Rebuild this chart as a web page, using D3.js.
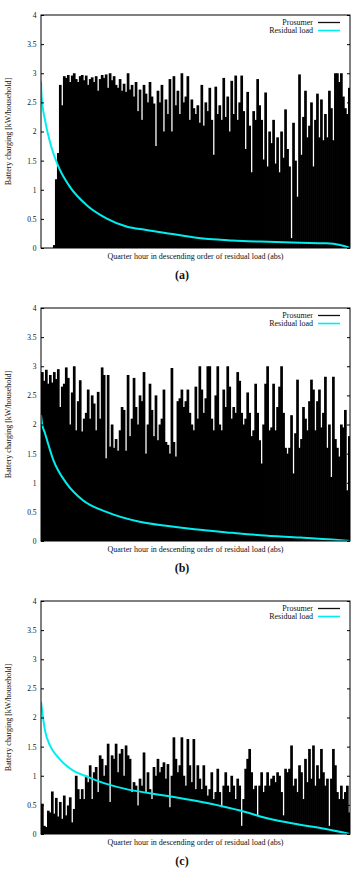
<!DOCTYPE html>
<html>
<head>
<meta charset="utf-8">
<script src="https://cdn.jsdelivr.net/npm/d3@7"></script>
<style>
  html, body { margin: 0; padding: 0; background: #fff; }
  svg { display: block; }
  text { font-family: "Liberation Serif", "DejaVu Serif", serif; fill: #111; }
</style>
</head>
<body>
<svg id="chart" width="362" height="874"></svg>
<script>
// ---------- data ----------
const yTickValues = [0, 0.5, 1, 1.5, 2, 2.5, 3, 3.5, 4];
const yTickLabels = ["0", "0.5", "1", "1.5", "2", "2.5", "3", "3.5", "4"];
const captions = ["(a)", "(b)", "(c)"];
const seriesNames = ["Prosumer", "Residual load"];
const yAxisTitle = "Battery charging [kW/household]";
const xAxisTitle = "Quarter hour in descending order of residual load (abs)";

// Prosumer battery charging (kW/household), quarter hours sorted by residual load
const prosumerA = [0,0,0,0,0,0,0.05,1.18,1.63,2.8,2.45,2.95,2.92,2.97,2.85,2.96,3.0,2.9,2.85,2.95,
  2.97,2.88,2.96,2.8,2.9,2.93,2.85,2.95,2.7,2.9,2.97,2.92,2.98,2.75,3.0,2.88,2.95,2.8,2.75,2.9,
  2.7,2.82,2.68,3.0,2.72,2.8,2.6,2.85,2.35,2.72,2.2,2.8,2.65,2.5,2.85,2.6,2.48,1.75,2.7,2.5,
  2.8,2.0,2.55,2.3,2.9,2.0,2.95,2.45,2.7,2.3,3.0,2.5,2.6,2.95,2.2,2.55,2.4,2.3,2.45,2.15,
  2.8,2.1,2.5,2.35,2.75,2.2,1.6,2.77,2.3,2.45,2.2,2.92,2.25,2.6,2.0,2.87,2.3,2.96,2.2,2.5,
  2.96,2.35,1.7,2.68,2.1,1.3,2.35,2.2,2.9,2.45,2.2,1.52,2.67,1.4,2.0,1.8,2.2,1.45,1.9,1.3,
  2.0,1.55,2.38,1.7,1.4,0.17,2.15,1.5,0.88,2.98,1.6,2.25,2.7,1.9,2.1,2.5,1.4,2.2,2.65,1.9,
  2.55,1.85,2.3,1.9,2.7,2.4,1.85,3.0,3.0,2.85,3.0,2.6,2.4,2.3,2.75];
const prosumerB = [2.9,2.75,2.94,2.7,2.85,2.72,2.9,2.78,2.95,2.3,2.65,2.7,2.98,2.8,2.0,2.55,3.0,1.9,2.4,2.76,
  1.88,2.1,2.2,2.6,2.1,2.5,2.36,1.9,2.56,2.1,2.98,2.85,1.42,2.85,1.62,2.0,1.6,1.75,1.55,1.9,
  2.3,2.25,1.55,2.85,1.8,2.1,2.8,2.3,2.0,2.5,2.4,2.9,1.5,2.0,2.7,2.25,1.8,2.5,1.73,2.0,
  2.1,2.6,1.7,1.65,1.5,2.97,1.7,1.45,2.4,2.45,2.6,2.3,2.4,2.6,2.2,2.0,1.9,2.65,2.1,3.0,
  2.6,2.2,2.45,3.0,3.0,2.1,1.9,2.5,3.0,2.0,1.9,2.6,2.3,3.0,2.65,2.1,2.3,2.2,2.9,2.75,
  2.2,2.0,2.1,2.55,2.2,1.8,1.9,2.7,2.2,1.73,1.33,2.0,2.7,3.0,1.9,1.95,2.7,1.9,2.3,2.65,
  3.0,2.2,1.6,1.5,1.6,2.16,1.16,1.85,2.77,1.6,1.75,2.3,2.1,1.9,2.4,2.77,2.6,1.9,2.4,2.6,
  1.95,2.2,2.82,1.6,2.0,1.1,2.82,1.75,1.6,1.45,2.0,1.95,2.25,0.87,1.8];
const prosumerC = [0.52,0.14,0.12,0.4,0.37,0.73,0.35,0.62,0.3,0.55,0.26,0.66,0.32,0.49,0.63,0.2,0.43,1.0,0.77,0.6,
  0.77,0.6,1.0,0.89,1.18,0.6,1.06,1.15,0.72,1.35,1.29,1.0,1.18,1.55,0.55,1.35,1.29,1.55,1.06,1.38,
  1.46,1.0,1.52,1.35,1.29,0.72,0.89,0.83,0.49,0.95,0.83,1.4,0.72,1.06,0.77,0.6,1.15,1.0,1.29,1.06,
  1.15,1.23,0.95,1.2,0.46,1.0,1.66,1.29,1.06,1.18,1.66,1.0,0.83,1.63,1.18,0.89,1.63,0.77,1.18,0.95,
  0.77,1.18,0.83,0.66,0.77,1.06,0.6,0.72,1.12,0.72,0.46,0.83,1.06,0.83,0.72,1.0,0.83,0.6,0.95,0.83,
  0.14,0.6,1.12,1.29,1.46,1.06,0.77,0.83,0.32,0.83,1.06,0.72,0.83,1.06,0.83,0.95,1.0,0.89,1.06,1.0,
  0.72,0.32,1.12,1.06,1.12,1.52,0.83,0.95,0.72,1.18,1.06,0.6,1.29,0.89,1.46,0.95,1.52,0.83,1.18,0.95,
  1.46,1.06,0.83,0.95,0.14,0.95,1.46,1.18,0.72,0.6,0.83,0.6,0.72,0.83,0.37];

// Residual load curve (position in quarter-hour order, kW/household)
const residualPosA = [0,0.3,2,4.5,8.7,14.5,22.8,32.8,42.8,52.8,66,77,96,110,130,143,150,155];
const residualValA = [2.86,2.6,2.2,1.82,1.4,1.05,0.74,0.51,0.37,0.31,0.24,0.18,0.13,0.11,0.09,0.08,0.05,0.0];
const residualPosB = [0,0.5,2,6.2,12.8,21,32.8,49.5,62.8,77,96,110,130,146,155];
const residualValB = [2.16,2.02,1.85,1.39,0.99,0.7,0.5,0.33,0.26,0.2,0.14,0.1,0.06,0.025,0.0];
const residualPosC = [0,1,2,4.5,8.5,12.8,17,22,27,32.8,42.8,54.5,66,77.5,87.8,93,104.5,110,126.5,143,155];
const residualValC = [2.27,2.0,1.78,1.52,1.32,1.17,1.07,1.0,0.93,0.86,0.77,0.7,0.64,0.57,0.5,0.46,0.36,0.3,0.18,0.086,0.0];

const panels = [
  { caption: captions[0], prosumer: prosumerA, rPos: residualPosA, rVal: residualValA },
  { caption: captions[1], prosumer: prosumerB, rPos: residualPosB, rVal: residualValB },
  { caption: captions[2], prosumer: prosumerC, rPos: residualPosC, rVal: residualValC }
];

// ---------- layout ----------
const svg = d3.select("#chart");
svg.append("rect").attr("width", 362).attr("height", 874).attr("fill", "#fff");
const left = 41, right = 350, plotH = 233;
const tops = [15, 308, 601];
const cyan = "#00eeee";

panels.forEach((p, k) => {
  const top = tops[k];
  const N = p.prosumer.length;
  const x = d3.scaleLinear().domain([0, N]).range([left, right]);
  const y = d3.scaleLinear().domain([0, 4]).range([top + plotH, top]);
  const g = svg.append("g");

  const clipId = "clip" + k;
  g.append("clipPath").attr("id", clipId)
    .append("rect").attr("x", left).attr("y", top).attr("width", right - left).attr("height", plotH);

  const plot = g.append("g").attr("clip-path", `url(#${clipId})`);
  plot.selectAll("rect.bar").data(p.prosumer).join("rect")
    .attr("class", "bar")
    .attr("x", (d, i) => x(i))
    .attr("width", (d, i) => x(i + 1) - x(i) + 0.7)
    .attr("y", d => y(d))
    .attr("height", d => y(0) - y(d))
    .attr("fill", "#000");

  const resData = p.rPos.map((pos, i) => [pos, p.rVal[i]]);
  plot.append("path").datum(resData)
    .attr("fill", "none").attr("stroke", cyan).attr("stroke-width", 2)
    .attr("d", d3.line().x(d => x(d[0])).y(d => y(d[1])).curve(d3.curveMonotoneX));

  // axes
  const ax = g.append("g").attr("transform", `translate(${left},0)`)
    .call(d3.axisLeft(y).tickValues(yTickValues).tickFormat((d, i) => yTickLabels[i]).tickSize(-3).tickPadding(4.5));
  ax.select(".domain").remove();
  ax.selectAll("line").attr("stroke", "#000");
  ax.selectAll("text").attr("font-size", 7.5).attr("font-family", "Liberation Serif").attr("fill", "#111");

  const axr = g.append("g").attr("transform", `translate(${right},0)`)
    .call(d3.axisRight(y).tickValues(yTickValues).tickFormat("").tickSize(-3));
  axr.select(".domain").remove();
  axr.selectAll("line").attr("stroke", "#000");

  g.append("rect").attr("x", left).attr("y", top).attr("width", right - left).attr("height", plotH)
    .attr("fill", "none").attr("stroke", "#000").attr("stroke-width", 1);

  // legend
  const leg = g.append("g");
  seriesNames.forEach((name, j) => {
    const ly = top + 7.5 + j * 8;
    leg.append("text").attr("x", 313).attr("y", ly + 2.7).attr("text-anchor", "end")
      .attr("font-size", 8).text(name);
    leg.append("line").attr("x1", 318).attr("x2", 340).attr("y1", ly).attr("y2", ly)
      .attr("stroke", j === 0 ? "#111" : cyan).attr("stroke-width", j === 0 ? 1.3 : 1.6);
  });

  // titles
  g.append("text").attr("transform", `translate(10.5,${top + plotH / 2}) rotate(-90)`)
    .attr("text-anchor", "middle").attr("font-size", 8).text(yAxisTitle);
  g.append("text").attr("x", (left + right) / 2).attr("y", top + plotH + 10.5)
    .attr("text-anchor", "middle").attr("font-size", 8).text(xAxisTitle);
  g.append("text").attr("x", 182).attr("y", top + 264)
    .attr("text-anchor", "middle").attr("font-size", 12).attr("font-weight", "bold").text(p.caption);
});
</script>
</body>
</html>
